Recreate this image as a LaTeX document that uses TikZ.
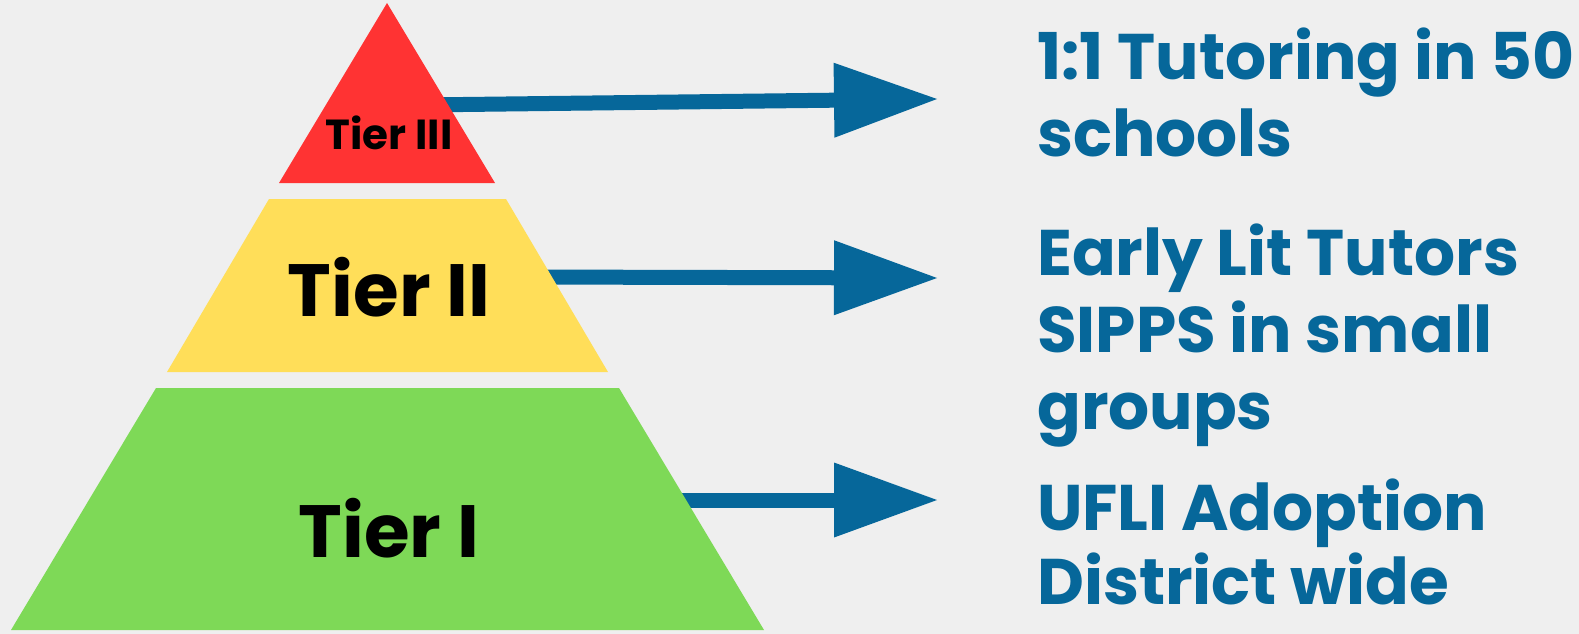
\documentclass[tikz,border=0pt]{standalone}
\usepackage{fontspec}
\setmainfont{Poppins}[BoldFont={* Bold}]
\usetikzlibrary{arrows.meta}
\definecolor{tier_red}{RGB}{255, 51, 51}
\definecolor{tier_yellow}{RGB}{255, 222, 89}
\definecolor{tier_green}{RGB}{126, 217, 87}
\definecolor{tier_blue}{RGB}{6, 103, 154}
\definecolor{tier_bg}{RGB}{239, 239, 239}
\tikzstyle{tl}=[font=\bfseries\fontsize{74}{80}\selectfont,inner sep=0pt,anchor=base]
\tikzstyle{tls}=[tl,font=\bfseries\fontsize{42}{46}\selectfont]
\tikzstyle{bt}=[font=\bfseries\fontsize{64.5}{77}\selectfont,text=tier_blue,
  align=left,inner sep=0pt,anchor=base west]
\tikzstyle{ar}=[draw=tier_blue,line width=15pt,
  -{Triangle[length=103pt,width=75pt,line width=0pt]}]
\begin{document}
\begin{tikzpicture}[x=1pt,y=-1pt]
        \fill[tier_bg] (0,0) rectangle (1579,634);
        \coordinate (a3) at (420,105);
        \coordinate (h3) at (937,99);
        \coordinate (a2) at (520,277);
        \coordinate (h2) at (937,278);
        \coordinate (a1) at (650,500);
        \coordinate (h1) at (937,500);
        \draw[style=ar] (a3) to (h3);
        \draw[style=ar] (a2) to (h2);
        \draw[style=ar] (a1) to (h1);
        \fill[tier_red] (387,3) -- (495,183) -- (279,183) -- cycle;
        \fill[tier_yellow] (269,199) -- (506,199) -- (608,372) -- (167,372) -- cycle;
        \fill[tier_green] (156,388) -- (619,388) -- (764,630) -- (11,630) -- cycle;
        \node[style=tls] (t3) at (389,149) {Tier III};
        \node[style=tl] (t2) at (389,316) {Tier II};
        \node[style=tl] (t1) at (389,557) {Tier I};
        \node[style=bt] (d3) at (1037,156) {1:1 Tutoring in 50\\schools};
        \node[style=bt] (d2) at (1037,429) {Early Lit Tutors\\SIPPS in small\\groups};
        \node[style=bt,font=\bfseries\fontsize{64.5}{74}\selectfont] (d1) at (1037,604) {UFLI Adoption\\District wide};
\end{tikzpicture}
\end{document}
